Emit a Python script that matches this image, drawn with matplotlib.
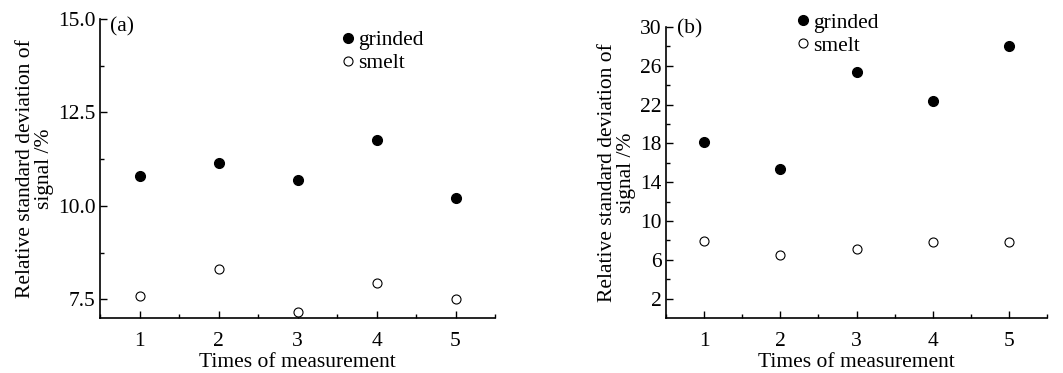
import matplotlib
matplotlib.use("Agg")
import matplotlib.pyplot as plt
from matplotlib.ticker import MultipleLocator, FixedLocator

plt.rcParams['font.family'] = ['Liberation Serif', 'DejaVu Serif']

times = [1, 2, 3, 4, 5]
a_grinded = [10.81, 11.14, 10.68, 11.77, 10.20]
a_smelt = [7.60, 8.32, 7.16, 7.93, 7.51]
b_grinded = [18.1, 15.36, 25.32, 22.4, 28.0]
b_smelt = [7.97, 6.5, 7.14, 7.87, 7.8]

a_yticks = [7.5, 10.0, 12.5, 15.0]
b_yticks = [2, 6, 10, 14, 18, 22, 26, 30]

fig = plt.figure(figsize=(10.63, 3.73), dpi=100)
W, H = 1063, 373

def make_ax(l, r, t, b):
    return fig.add_axes([l / W, 1 - b / H, (r - l) / W, (b - t) / H])

axa = make_ax(100, 495, 19, 318)
axb = make_ax(666, 1047, 27, 318)

fs = 15.5
ylabel = "Relative standard deviation of\nsignal /%"

def style(ax):
    for s in ['top', 'right']:
        ax.spines[s].set_visible(False)
    for s in ['left', 'bottom']:
        ax.spines[s].set_linewidth(1.2)
    ax.tick_params(which='both', direction='in', labelsize=fs, width=1.0)
    ax.tick_params(which='major', length=5)
    ax.tick_params(which='minor', length=3)
    ax.tick_params(axis='x', which='major', pad=10)
    ax.tick_params(axis='y', which='major', pad=3)
    ax.set_xlim(0.5, 5.5)
    ax.xaxis.set_major_locator(FixedLocator(times))
    ax.xaxis.set_minor_locator(MultipleLocator(0.5))
    ax.set_xlabel("Times of measurement", fontsize=fs, labelpad=1.5)
    ax.set_ylabel(ylabel, fontsize=fs, linespacing=1.0, labelpad=3)

# panel a
axa.plot(times, a_grinded, 'o', color='black', ms=7, label='grinded')
axa.plot(times, a_smelt, 'o', mfc='white', mec='black', mew=0.8, ms=6.5, label='smelt')
style(axa)
axa.set_ylim(7.0, 15.0)
axa.set_yticks(a_yticks)
axa.set_yticklabels([f"{v:.1f}" for v in a_yticks])
axa.yaxis.set_minor_locator(MultipleLocator(1.25))
axa.text(0.025, 1.005, "(a)", transform=axa.transAxes, fontsize=fs, va='top', ha='left')
axa.legend(loc='upper left', bbox_to_anchor=(337 / W, 1 - 30 / H), bbox_transform=fig.transFigure,
           frameon=False, fontsize=fs, handletextpad=0.0, handlelength=1.0,
           borderpad=0, labelspacing=0.15, borderaxespad=0)

# panel b
axb.plot(times, b_grinded, 'o', color='black', ms=7, label='grinded')
axb.plot(times, b_smelt, 'o', mfc='white', mec='black', mew=0.8, ms=6.5, label='smelt')
style(axb)
axb.set_ylim(0, 30)
axb.set_yticks(b_yticks)
axb.yaxis.set_minor_locator(FixedLocator([4, 8, 12, 16, 20, 24, 28]))
axb.text(0.028, 1.027, "(b)", transform=axb.transAxes, fontsize=fs, va='top', ha='left')
axb.legend(loc='upper left', bbox_to_anchor=(792 / W, 1 - 12.5 / H), bbox_transform=fig.transFigure,
           frameon=False, fontsize=fs, handletextpad=0.0, handlelength=1.0,
           borderpad=0, labelspacing=0.15, borderaxespad=0)

fig.savefig("out.png", dpi=100)
